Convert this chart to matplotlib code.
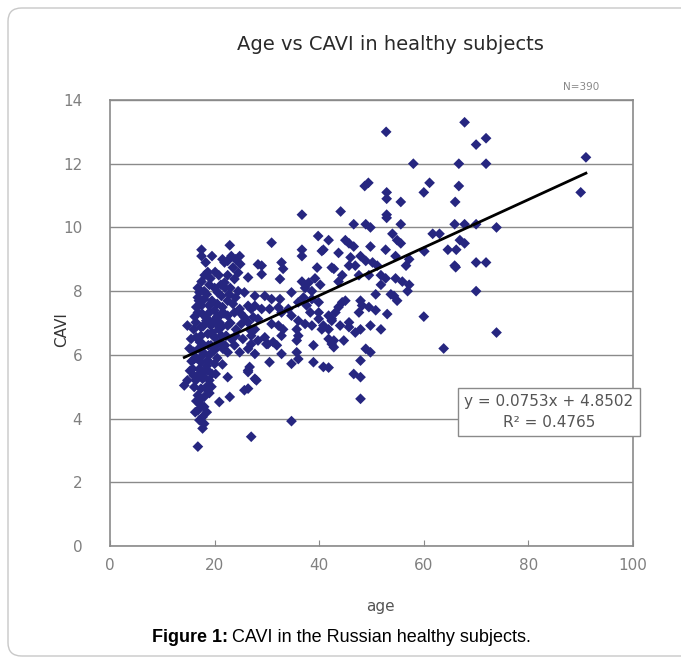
import matplotlib
matplotlib.use("Agg")
import matplotlib.pyplot as plt
from matplotlib.patches import FancyBboxPatch

# age, CAVI
age = [67.8, 70, 71.9, 66.7, 71.9, 61.1, 60.0, 66.7, 66.0, 65.9, 67.8, 70, 73.9, 61.7, 63, 66.9, 67.8,
       60.1, 64.6, 66.2, 65.9, 66.1, 70, 71.9, 70, 60, 73.9, 63.8, 91, 90,
       52.8, 58, 49.4, 48.7, 52.9, 52.9, 55.6, 44.1, 52.9, 52.9, 46.6, 48.9, 49.8, 55.6, 54, 54.9, 55.6,
       41.8, 45, 45.7, 46.6, 43.7, 49.8, 52.7, 46, 47.9, 48.9, 42.8, 45.7, 46.9, 50.2, 51.1, 54.6, 56.6,
       57.2, 44.4, 43.7, 47.6, 49.5, 51.8, 52.7, 51.8, 54.6, 55.9, 57.2,
       50.8, 54.3, 54.9, 56.9, 53.7, 44.4, 45, 43.7, 43.1, 47.9, 48.2, 47.6, 49.5, 50.8, 53, 41.8, 42.4,
       45.7, 44, 47.9, 49.8, 51.8, 42.8, 44.7, 42.8, 48.9, 49.8, 47.9, 46.6, 47.9, 47.9, 41.8,
       36.7, 39.8, 36.7, 36.7, 40.5, 32.8, 33.1, 39.6, 36.7, 38, 39.2, 40.2, 37.3, 38.6, 34.7, 32.5, 37,
       38.6, 39.9, 36, 37.6, 32.8, 34.7, 38.3, 39.9, 36, 37.3, 38.6, 40.8, 32.2, 33.1, 32.8, 35.7, 36,
       40.5, 41.8, 41.8, 45.7, 46.9, 38.9, 32.8, 34.7, 35.7, 38.9, 40.8, 34.7,
       30.9, 40.8, 29, 29, 42.4, 26.4, 32.5, 27.7, 29.6, 30.9, 27, 29, 30.5, 32.2, 34.1, 26.4, 28.3, 30.9,
       39.9, 42.4, 27, 29.6, 30.2, 28.3,
       27, 28.3, 29.9, 31.2, 31.9, 35.7, 42.4, 36, 30.5, 26.7, 26.4, 28, 26.4, 27,
       17.5, 17.5, 22.9, 24.8, 22.5, 21.9, 18.7, 23.5, 24.5, 23.8, 21.9, 16.8, 17.1, 20, 20.6, 21.3, 24.5,
       25.7, 18, 19, 22.5, 23.5, 24.8, 26.4, 27.7,
       16.8, 17.7, 19, 20, 21.3, 22.5, 23.8, 25.7, 27.4,
       14.8, 16.4, 17.4, 18.4, 19.3, 20.3, 21.3, 22.5, 24.1, 25.1, 26.7, 27.7,
       17.4, 18.7, 20, 21.3, 23.2, 25.4, 17.7, 19.3, 20.6,
       21.6, 22.5, 23.8, 24.8, 26.4, 27.7, 16.1, 17.4, 18.7, 20, 15.8, 17.1, 18.7, 26.4, 14.8, 16.4, 17.7,
       19, 14.2, 16.1, 17.4, 18.7, 22.5, 27.7, 16.8, 18, 25.7, 22.9, 17.1, 18, 16.8, 20.9, 17.7, 17.1, 18,
       17.7, 16.8,
       15.5, 16, 16.5, 17, 17.5, 18, 18.5, 19, 19.5, 20, 20.5, 21, 21.5, 22, 22.5, 16, 17, 18, 19, 20, 21,
       22, 16.5, 17.5, 18.5, 19.5, 20.5, 21.5, 16, 17, 18, 19, 16.5, 18.5, 19.5, 20.5, 18.5, 17.5, 16.5,
       23, 24, 23, 24, 25, 24, 18.3, 19.5, 20.8, 24.9, 23.2,
       15.2, 15.6, 16.2, 16.8, 17.2, 17.8, 18.2, 18.8, 19.2, 19.8, 20.2, 20.8, 21.2, 21.8, 22.2, 19.4,
       18.6, 17.3, 15.3, 16.3, 20.1, 19.2, 18.1, 21.5, 22.8]

cavi = [13.3, 12.6, 12.8, 12.0, 12.0, 11.4, 11.1, 11.3, 10.8, 10.1, 10.1, 10.1, 10.0, 9.8, 9.8, 9.6, 9.5,
        9.25, 9.3, 9.3, 8.8, 8.75, 8.9, 8.9, 8.0, 7.2, 6.7, 6.2, 12.2, 11.1,
        13.0, 12.0, 11.4, 11.3, 11.1, 10.9, 10.8, 10.5, 10.4, 10.3, 10.1, 10.1, 10.0, 10.1, 9.8, 9.6, 9.5,
        9.6, 9.6, 9.5, 9.4, 9.2, 9.4, 9.3, 9.06, 9.1, 8.95, 8.7, 8.8, 8.8, 8.9, 8.8, 9.1, 8.8,
        9.0, 8.5, 8.3, 8.5, 8.5, 8.5, 8.4, 8.2, 8.4, 8.3, 8.2,
        7.9, 7.85, 7.7, 8.0, 7.9, 7.65, 7.7, 7.5, 7.33, 7.7, 7.55, 7.33, 7.5, 7.4, 7.28, 7.23, 7.07,
        7.02, 6.92, 6.8, 6.92, 6.8, 6.45, 6.45, 6.24, 6.19, 6.08, 5.82, 5.4, 5.3, 4.62, 5.6,
        10.4, 9.73, 9.3, 9.1, 9.26, 8.9, 8.7, 8.74, 8.3, 8.27, 8.4, 8.2, 8.1, 8.0, 7.96, 7.75, 7.8,
        7.75, 7.65, 7.65, 7.55, 7.33, 7.23, 7.33, 7.33, 7.07, 6.97, 6.92, 6.92, 6.92, 6.8, 6.6, 6.8, 6.6,
        6.8, 6.8, 6.5, 6.87, 6.7, 6.3, 6.03, 5.72, 6.08, 5.77, 5.62, 3.92,
        9.52, 9.3, 8.8, 8.53, 8.74, 8.43, 8.38, 7.85, 7.85, 7.75, 7.44, 7.44, 7.44, 7.49, 7.44, 7.02, 7.13, 6.97,
        7.13, 7.13, 6.6, 6.55, 6.34, 8.84,
        6.34, 6.45, 6.34, 6.4, 6.3, 6.45, 6.34, 5.87, 5.77, 5.62, 5.46, 5.2, 4.94, 3.43,
        9.3, 9.1, 9.44, 9.1, 8.95, 8.9, 8.6, 8.74, 8.58, 8.38, 8.27, 8.1, 7.96, 8.1, 7.96, 7.85, 8.0,
        7.96, 7.75, 7.54, 7.7, 7.6, 7.44, 7.54, 7.54,
        7.33, 7.28, 7.33, 7.39, 7.28, 7.23, 7.33, 7.18, 7.18,
        6.92, 7.02, 6.87, 7.07, 6.92, 6.97, 6.87, 6.92, 6.8, 6.97, 6.8, 6.8,
        6.6, 6.66, 6.55, 6.6, 6.5, 6.5, 6.34, 6.3, 6.34,
        6.19, 6.08, 6.3, 6.08, 6.19, 6.03, 5.87, 5.77, 5.82, 5.72, 5.56, 5.56, 5.51, 5.51, 5.2, 5.2, 5.25,
        5.2, 5.04, 4.99, 4.94, 5.04, 5.3, 5.25, 4.73, 4.68, 4.89, 4.68, 4.47, 4.37, 4.26, 4.52, 4.05, 3.95, 3.84,
        3.69, 3.12,
        6.5, 6.8, 7.5, 7.7, 8.3, 8.0, 7.9, 8.2, 7.7, 7.1, 7.6, 7.0, 7.5, 8.1, 8.5, 6.1, 6.2, 6.05, 6.0, 6.15, 6.4,
        6.3, 5.9, 5.95, 5.65, 5.4, 5.9, 5.7, 5.35, 5.4, 5.3, 4.8, 4.55, 4.2, 6.7, 7.2, 7.15, 7.55, 6.55,
        8.1, 7.8, 7.0, 6.6, 7.3, 9.0, 8.9, 9.1, 8.5, 8.85, 9.1,
        6.2, 5.8, 7.2, 7.8, 6.4, 6.9, 5.5, 6.3, 7.6, 6.6, 5.4, 6.8, 8.2, 7.3, 6.6, 5.0,
        4.9, 4.6, 5.5, 4.2, 8.6, 8.4, 8.5, 9.0, 7.9]

slope = 0.0753
intercept = 4.8502
r2 = 0.4765
fit_x = [min(age), max(age)]

W, H = 681, 664
fig = plt.figure(figsize=(W / 100, H / 100), dpi=100)

# rounded outer frame, cut off on the right like the source page
frame = FancyBboxPatch((8 / W, 8 / H), 1.2, (H - 16) / H, boxstyle="round,pad=0,rounding_size=0.02",
                       transform=fig.transFigure, facecolor="none", edgecolor="#c8c8c8", lw=1.0, zorder=-5)
fig.patches.append(frame)

ax = fig.add_axes([110 / W, (H - 546) / H, (633 - 110) / W, (546 - 100) / H])
ax.set_xlim(0, 100)
ax.set_ylim(0, 14)
ax.set_xticks(range(0, 101, 20))
ax.set_yticks(range(0, 15, 2))
ax.yaxis.grid(True, color="#8a8a8a", lw=1.0)
ax.set_axisbelow(True)
for s in ax.spines.values():
    s.set_color("#8a8a8a")
    s.set_linewidth(1.2)
ax.tick_params(axis="x", direction="in", length=4, color="#8a8a8a", labelcolor="#808080", labelsize=11, pad=9)
ax.tick_params(axis="y", length=0, labelcolor="#808080", labelsize=11, pad=20)

ax.scatter(age, cavi, marker="D", s=30, color="#262680", edgecolors="none", zorder=3)
ax.plot(fit_x, [slope * v + intercept for v in fit_x], color="black", lw=2.0, zorder=4)

fig.text(390 / W, 1 - 45 / H, "Age vs CAVI in healthy subjects", ha="center", va="center",
         fontsize=14, color="#2a2a2a")
fig.text(581 / W, 1 - 87 / H, "N=390", ha="center", va="center", fontsize=7.5, color="#888888")
fig.text(62 / W, 1 - 330 / H, "CAVI", rotation=90, ha="center", va="center", fontsize=11, color="#333333")
fig.text(380 / W, 1 - 606 / H, "age", ha="center", va="center", fontsize=11, color="#555555")

fig.text(549 / W, 1 - 412 / H, "y = %.4fx + %.4f\nR\u00b2 = %.4f" % (slope, intercept, r2),
         ha="center", va="center", fontsize=11, color="#555555", linespacing=1.45,
         bbox=dict(boxstyle="square,pad=0.4", facecolor="white", edgecolor="#8a8a8a", lw=1.0))

# caption with bold lead
cap_y = 1 - 638 / H
t1 = fig.text(152 / W, cap_y, "Figure 1:", ha="left", va="center", fontsize=13,
              fontweight="bold", family="Liberation Sans")
fig.canvas.draw()
bb = t1.get_window_extent()
fig.text(bb.x1 / W + 4 / W, cap_y, "CAVI in the Russian healthy subjects.", ha="left", va="center",
         fontsize=13, family="Liberation Sans")

fig.savefig("out.png", dpi=100)
